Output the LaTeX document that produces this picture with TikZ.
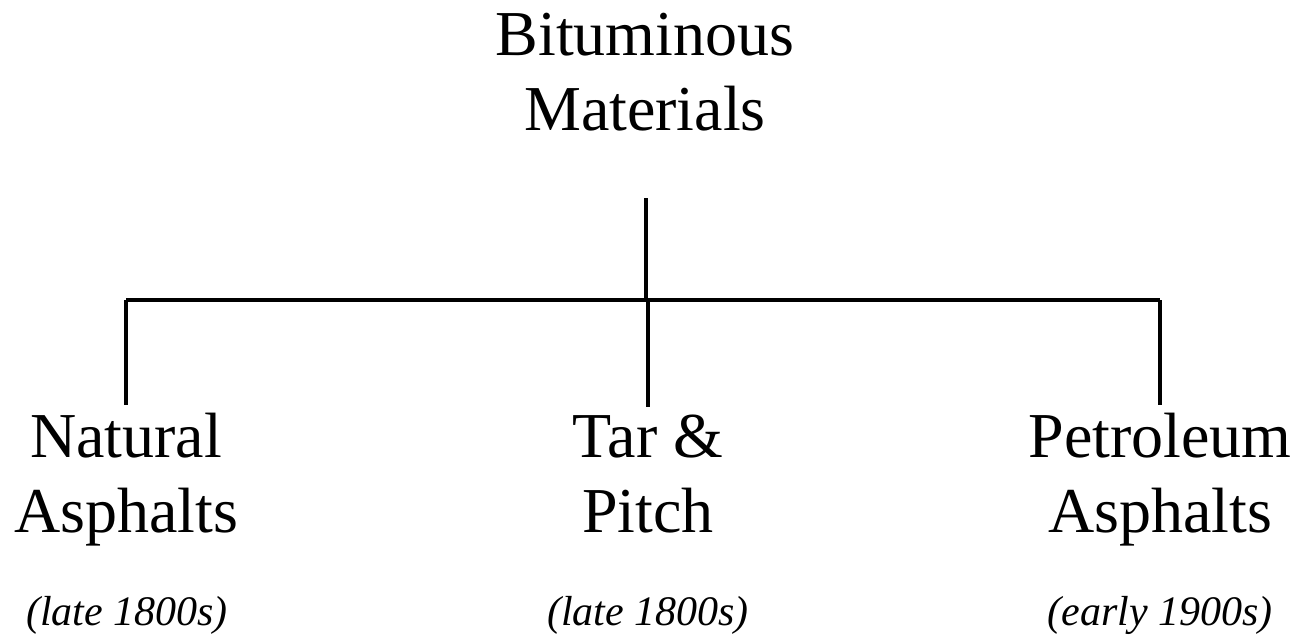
\documentclass[tikz,border=0pt]{standalone}
\usepackage{fontspec}
\setmainfont{Liberation Serif}
\usetikzlibrary{positioning,calc}
\definecolor{ink}{HTML}{000000}
\newcommand{\clsf}{\fontsize{48}{56}\selectfont}
\newcommand{\yrs}{\fontsize{31.5}{36}\selectfont\itshape}

\begin{document}
\begin{tikzpicture}[
  x=0.75pt, y=-0.75pt,
  text=ink,
  cls/.style={align=center, inner sep=0pt, anchor=base, font=\clsf},
  era/.style={inner sep=0pt, anchor=base, font=\yrs},
  link/.style={line width=3pt, draw=ink},
  trunk/.style={line width=2.3pt, draw=ink},
]
\useasboundingbox (0,0) rectangle (1306,639);
% ---------------- root ----------------
\node[cls] (root) at (645,130) {Bituminous\\Materials};
% ---------------- three classes ----------------
\node[cls] (nat) at (126,532) {Natural\\Asphalts};
\node[cls] (tar) at (648,532) {Tar \&\\Pitch};
\node[cls] (pet) at (1160,532) {Petroleum\\Asphalts};
\node[era] (natyr) at (127,625) {(late 1800s)};
\node[era] (taryr) at (648,625) {(late 1800s)};
\node[era] (petyr) at (1160,625) {(early 1900s)};
% ---------------- tree lines ----------------
\coordinate (fork) at (646,300);
\coordinate (top) at (646,198);
\draw[trunk] (top) -- (fork);
\draw[link] (nat.north |- fork) -- (pet.north |- fork);
\draw[link] (nat.north |- fork) -- ([yshift=6pt]nat.north);
\draw[link] (tar.north |- fork) -- ([yshift=6pt]tar.north);
\draw[link] (pet.north |- fork) -- ([yshift=6pt]pet.north);
\end{tikzpicture}
\end{document}
